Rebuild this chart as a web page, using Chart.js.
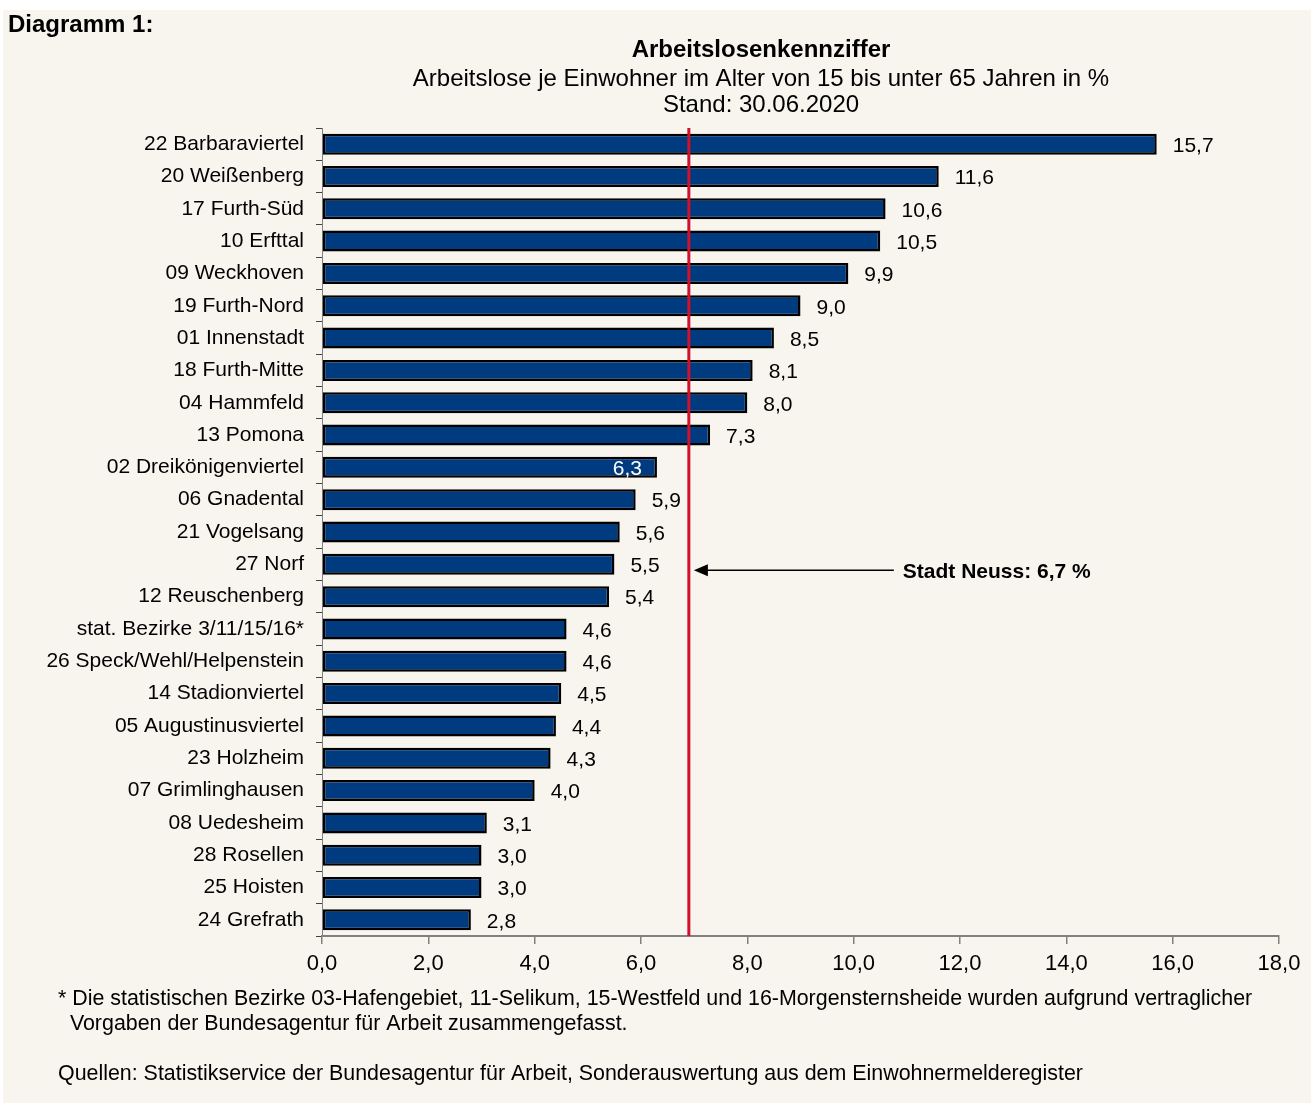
<!DOCTYPE html>
<html lang="de">
<head>
<meta charset="utf-8">
<title>Arbeitslosenkennziffer</title>
<script src="https://cdn.jsdelivr.net/npm/chart.js@4.4.1/dist/chart.umd.min.js"></script>
<style>
  html, body { margin: 0; padding: 0; background: #ffffff; }
  canvas { display: block; }
</style>
</head>
<body>
<canvas id="chart" width="1315" height="1109"></canvas>
<script>
// Bezirke (von oben nach unten) und Werte in %
const districts = [
    "22 Barbaraviertel", "20 Weißenberg", "17 Furth-Süd", "10 Erfttal", "09 Weckhoven",
    "19 Furth-Nord", "01 Innenstadt", "18 Furth-Mitte", "04 Hammfeld", "13 Pomona",
    "02 Dreikönigenviertel", "06 Gnadental", "21 Vogelsang", "27 Norf", "12 Reuschenberg",
    "stat. Bezirke 3/11/15/16*", "26 Speck/Wehl/Helpenstein", "14 Stadionviertel",
    "05 Augustinusviertel", "23 Holzheim", "07 Grimlinghausen", "08 Uedesheim",
    "28 Rosellen", "25 Hoisten", "24 Grefrath"
];
const rates = [
    15.7, 11.6, 10.6, 10.5, 9.9,
    9.0, 8.5, 8.1, 8.0, 7.3,
    6.3, 5.9, 5.6, 5.5, 5.4,
    4.6, 4.6, 4.5, 4.4, 4.3,
    4.0, 3.1, 3.0, 3.0, 2.8
];
const xTicks = [0, 2, 4, 6, 8, 10, 12, 14, 16, 18];
const cityValue = 6.9;          // Position der roten Linie
const cityLabel = "Stadt Neuss: 6,7 %";
const arrowRow = 13;            // Pfeil auf Höhe von "27 Norf"

const titleLines = [
    "Arbeitslosenkennziffer",
    "Arbeitslose je Einwohner im Alter von 15 bis unter 65 Jahren in %",
    "Stand: 30.06.2020"
];
const footLines = [
    "* Die statistischen Bezirke 03-Hafengebiet, 11-Selikum, 15-Westfeld und 16-Morgensternsheide wurden aufgrund vertraglicher",
    "  Vorgaben der Bundesagentur für Arbeit zusammengefasst.",
    "Quellen: Statistikservice der Bundesagentur für Arbeit, Sonderauswertung aus dem Einwohnermelderegister"
];

const FONT = "'Liberation Sans', Arial, sans-serif";
const fmt = (v) => v.toFixed(1).replace(".", ",");

// Hintergrund
const backgroundPlugin = {
    id: "background",
    beforeDraw: (chart) => {
        let ctx = chart.ctx;
        ctx.save();
        ctx.fillStyle = "#ffffff";
        ctx.fillRect(0, 0, chart.width, chart.height);
        ctx.fillStyle = "#f7f5ee";
        ctx.fillRect(3, 10, chart.width - 7, chart.height - 16);
        ctx.restore();
    },
};

// Titel, Fußnoten, Werte, rote Linie, Pfeil
const decorPlugin = {
    id: "decor",
    afterDatasetsDraw: (chart) => {
        let ctx = chart.ctx;
        let xs = chart.scales.x;
        let ys = chart.scales.y;
        let area = chart.chartArea;
        let redX = xs.getPixelForValue(cityValue);

        ctx.save();
        ctx.fillStyle = "#000";
        ctx.textBaseline = "alphabetic";

        // Überschrift
        ctx.textAlign = "left";
        ctx.font = "bold 24px " + FONT;
        ctx.fillText("Diagramm 1:", 8, 32);

        ctx.textAlign = "center";
        ctx.font = "bold 24px " + FONT;
        ctx.fillText(titleLines[0], 761, 57);
        ctx.font = "24px " + FONT;
        ctx.fillText(titleLines[1], 761, 86);
        ctx.fillText(titleLines[2], 761, 112);

        // Fußnoten
        ctx.textAlign = "left";
        ctx.font = "21.4px " + FONT;
        ctx.fillText(footLines[0], 58, 1005);
        ctx.fillText(footLines[1], 58, 1030);
        ctx.fillText(footLines[2], 58, 1080);

        // Werte an den Balken
        ctx.font = "21px " + FONT;
        ctx.textBaseline = "middle";
        let meta = chart.getDatasetMeta(0);
        meta.data.forEach((bar, i) => {
            let txt = fmt(rates[i]);
            let w = ctx.measureText(txt).width;
            let outside = bar.x + 16;
            if (outside < redX + 4 && outside + w > redX - 4) {
                ctx.fillStyle = "#ffffff";
                ctx.textAlign = "right";
                ctx.fillText(txt, bar.x - 15, bar.y + 2);
            } else {
                ctx.fillStyle = "#000";
                ctx.textAlign = "left";
                ctx.fillText(txt, outside, bar.y + 2);
            }
        });

        // rote Linie
        ctx.strokeStyle = "#d0102c";
        ctx.lineWidth = 3;
        ctx.beginPath();
        ctx.moveTo(redX, area.top);
        ctx.lineTo(redX, area.bottom);
        ctx.stroke();

        // Pfeil mit Beschriftung
        let ay = ys.getPixelForValue(arrowRow) + 6;
        let tip = redX + 5;
        ctx.strokeStyle = "#000";
        ctx.fillStyle = "#000";
        ctx.lineWidth = 1.5;
        ctx.beginPath();
        ctx.moveTo(tip + 10, ay);
        ctx.lineTo(redX + 205, ay);
        ctx.stroke();
        ctx.beginPath();
        ctx.moveTo(tip, ay);
        ctx.lineTo(tip + 14, ay - 6);
        ctx.lineTo(tip + 14, ay + 6);
        ctx.closePath();
        ctx.fill();

        ctx.font = "bold 21px " + FONT;
        ctx.textAlign = "left";
        ctx.textBaseline = "middle";
        ctx.fillText(cityLabel, redX + 214, ay + 2);
        ctx.restore();
    },
};

let ctx = document.getElementById("chart").getContext("2d");

let data = {
    labels: districts,
    datasets: [
        {
            label: "Arbeitslosenkennziffer",
            data: rates,
            backgroundColor: "#003b80",
            borderColor: "#000000",
            borderWidth: 2.5,
            borderSkipped: false,
            barPercentage: 0.65,
            categoryPercentage: 1,
        },
    ],
};

let options = {
    indexAxis: "y",
    responsive: false,
    animation: false,
    layout: {
        padding: { top: 128, right: 36, left: 0, bottom: 0 },
    },
    plugins: {
        legend: { display: false },
        title: { display: false },
        tooltip: { enabled: false },
    },
    scales: {
        x: {
            min: 0,
            max: 18,
            afterFit: (scale) => { scale.height = 173; },
            afterBuildTicks: (scale) => {
                scale.ticks = xTicks.map((v) => ({ value: v }));
            },
            ticks: {
                color: "#000",
                font: { family: FONT, size: 22 },
                padding: 7,
                maxRotation: 0,
                callback: (v) => fmt(v),
            },
            grid: {
                drawOnChartArea: false,
                tickLength: 8,
                color: "#808080",
                lineWidth: 1.5,
            },
            border: { color: "#808080", width: 2 },
        },
        y: {
            afterFit: (scale) => { scale.width = 322; },
            ticks: {
                color: "#000",
                font: { family: FONT, size: 21 },
                padding: 12,
                autoSkip: false,
            },
            grid: {
                drawOnChartArea: false,
                offset: true,
                tickLength: 6,
                color: "#404040",
                lineWidth: 1,
            },
            border: { color: "#808080", width: 1 },
        },
    },
};

let myChart = new Chart(ctx, {
    type: "bar",
    data: data,
    options: options,
    plugins: [backgroundPlugin, decorPlugin],
});
</script>
</body>
</html>
